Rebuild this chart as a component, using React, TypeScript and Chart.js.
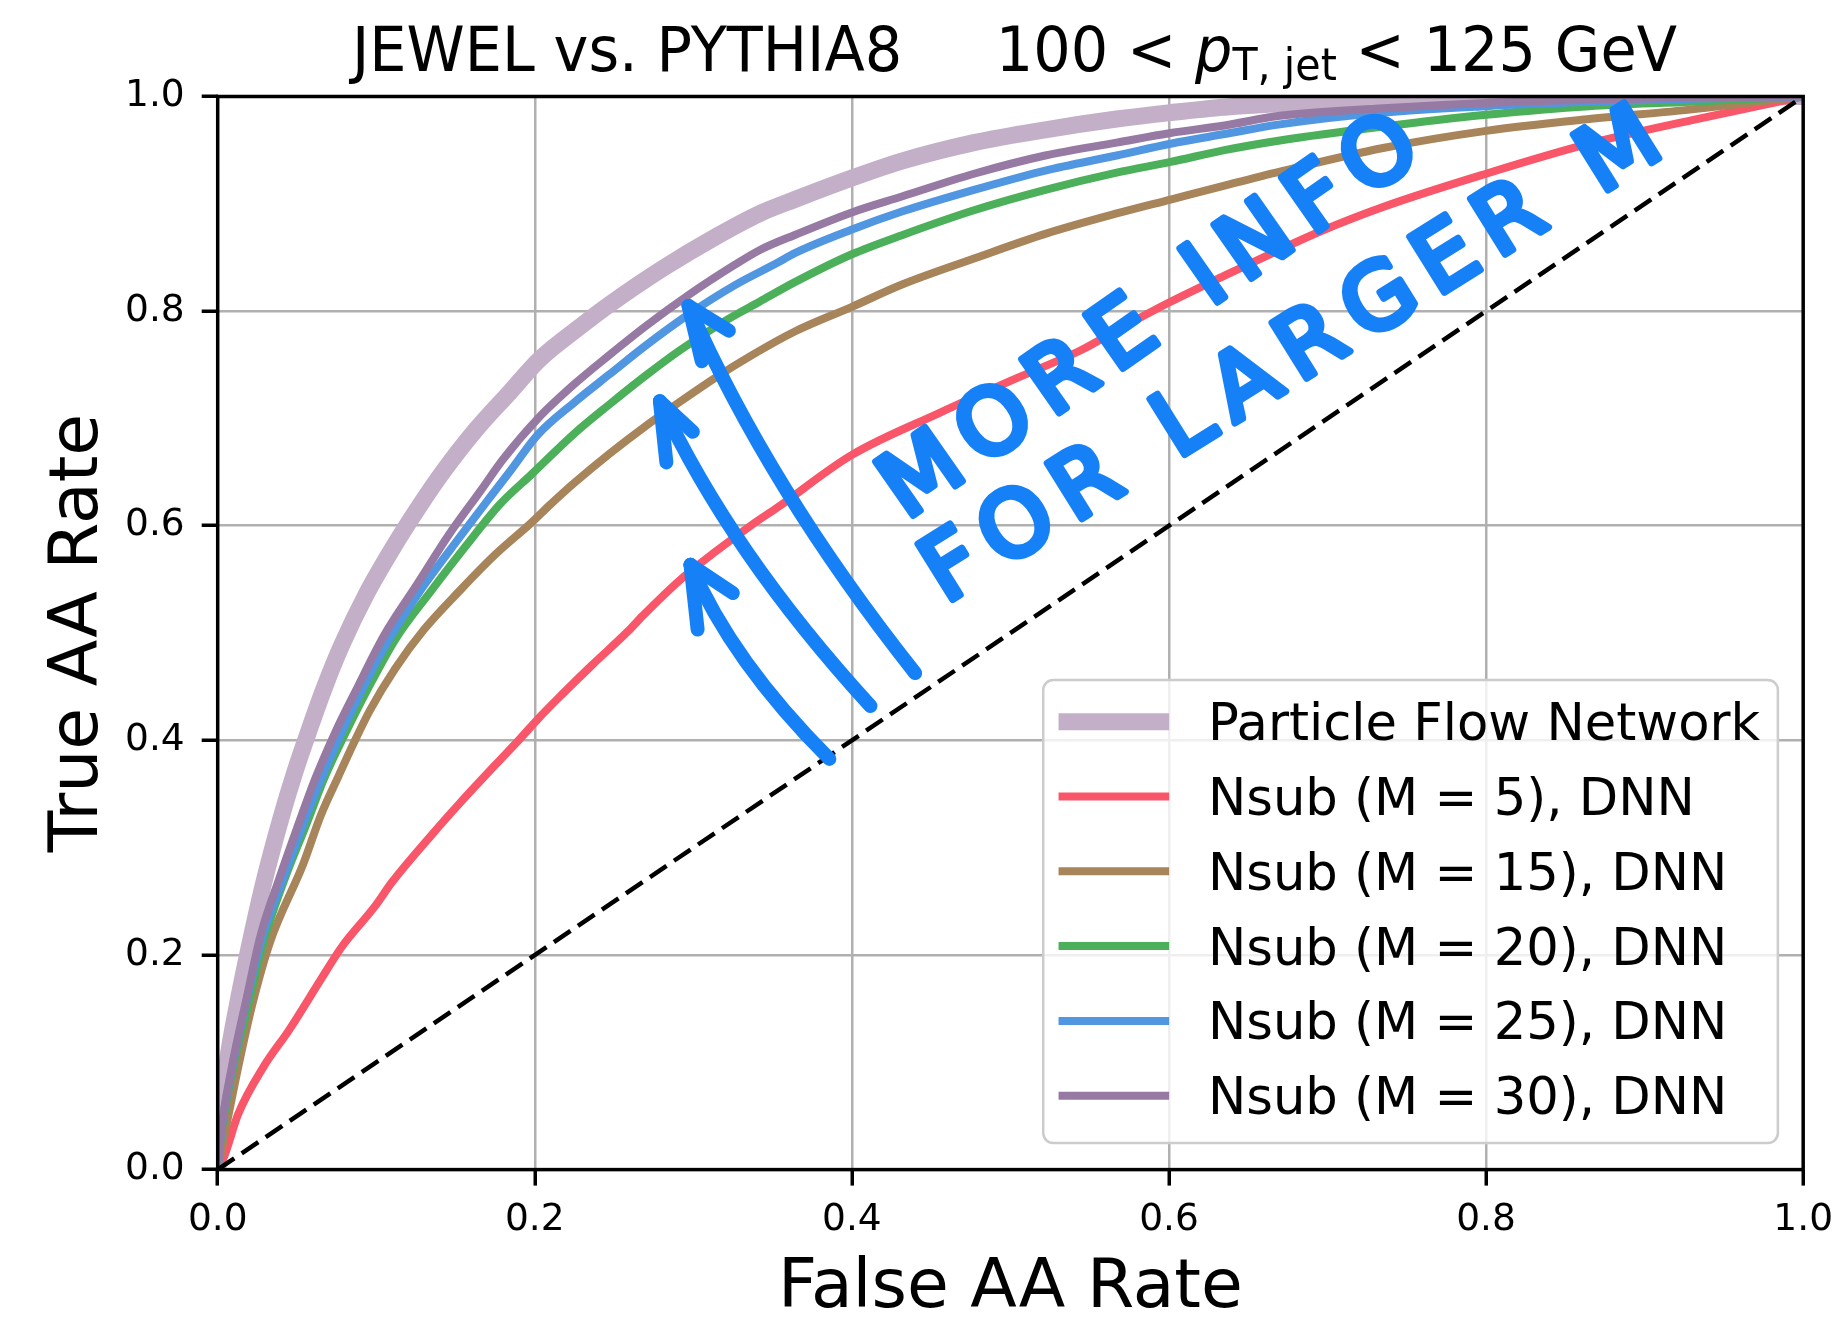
import React, { useEffect, useRef } from "react";
import { Chart, registerables } from "chart.js";

Chart.register(...registerables);

const FONT = '"DejaVu Sans", "Liberation Sans", sans-serif';

// ROC curves: false AA rate (x) against true AA rate (y)
const pfnFpr = [0, 0.002, 0.006, 0.013, 0.021, 0.029, 0.040, 0.049, 0.058, 0.067, 0.078, 0.094, 0.112, 0.128, 0.142, 0.162, 0.184, 0.203, 0.229, 0.247, 0.281, 0.315, 0.342, 0.364, 0.400, 0.432, 0.477, 0.522, 0.567, 0.601, 0.635, 0.695, 0.735, 0.800, 0.865, 0.930, 1];
const pfnTpr = [0, 0.050, 0.100, 0.158, 0.215, 0.267, 0.328, 0.372, 0.411, 0.448, 0.488, 0.537, 0.583, 0.620, 0.650, 0.688, 0.724, 0.755, 0.786, 0.806, 0.840, 0.870, 0.891, 0.904, 0.924, 0.940, 0.957, 0.969, 0.979, 0.985, 0.990, 0.995, 0.997, 0.998, 0.999, 1.0, 1];

const m5Fpr = [0, 0.004, 0.013, 0.029, 0.045, 0.065, 0.078, 0.099, 0.110, 0.135, 0.153, 0.175, 0.191, 0.202, 0.218, 0.236, 0.259, 0.268, 0.292, 0.315, 0.337, 0.353, 0.400, 0.455, 0.500, 0.545, 0.567, 0.600, 0.635, 0.668, 0.695, 0.735, 0.800, 0.865, 0.930, 1];
const m5Tpr = [0, 0.012, 0.052, 0.096, 0.130, 0.177, 0.207, 0.245, 0.268, 0.312, 0.342, 0.377, 0.402, 0.420, 0.444, 0.470, 0.502, 0.516, 0.550, 0.577, 0.601, 0.617, 0.666, 0.705, 0.735, 0.764, 0.782, 0.808, 0.833, 0.856, 0.874, 0.897, 0.928, 0.956, 0.978, 1];

const m15Fpr = [0, 0.004, 0.013, 0.022, 0.033, 0.054, 0.065, 0.076, 0.085, 0.096, 0.112, 0.130, 0.153, 0.175, 0.198, 0.210, 0.225, 0.247, 0.270, 0.292, 0.315, 0.337, 0.364, 0.400, 0.432, 0.477, 0.522, 0.567, 0.601, 0.635, 0.670, 0.735, 0.800, 0.865, 0.930, 1];
const m15Tpr = [0, 0.030, 0.096, 0.155, 0.212, 0.285, 0.330, 0.366, 0.395, 0.428, 0.467, 0.503, 0.540, 0.573, 0.603, 0.620, 0.640, 0.667, 0.693, 0.716, 0.739, 0.759, 0.781, 0.804, 0.825, 0.849, 0.872, 0.891, 0.904, 0.917, 0.930, 0.952, 0.968, 0.979, 0.988, 1];

const m20Fpr = [0, 0.002, 0.009, 0.019, 0.029, 0.042, 0.056, 0.067, 0.081, 0.094, 0.112, 0.135, 0.157, 0.178, 0.198, 0.225, 0.247, 0.270, 0.292, 0.319, 0.342, 0.364, 0.400, 0.432, 0.477, 0.522, 0.567, 0.601, 0.635, 0.670, 0.735, 0.800, 0.865, 0.930, 1];
const m20Tpr = [0, 0.030, 0.090, 0.152, 0.213, 0.270, 0.322, 0.364, 0.408, 0.446, 0.494, 0.540, 0.582, 0.620, 0.648, 0.686, 0.713, 0.740, 0.764, 0.790, 0.809, 0.827, 0.853, 0.871, 0.894, 0.913, 0.929, 0.939, 0.950, 0.959, 0.972, 0.983, 0.991, 0.995, 1];

const m25Fpr = [0, 0.002, 0.009, 0.018, 0.028, 0.041, 0.053, 0.065, 0.078, 0.092, 0.108, 0.128, 0.153, 0.172, 0.185, 0.202, 0.225, 0.247, 0.270, 0.297, 0.326, 0.353, 0.364, 0.400, 0.432, 0.477, 0.522, 0.567, 0.601, 0.635, 0.670, 0.735, 0.800, 0.865, 0.930, 1];
const m25Tpr = [0, 0.033, 0.094, 0.156, 0.216, 0.270, 0.318, 0.363, 0.407, 0.450, 0.494, 0.540, 0.590, 0.627, 0.652, 0.685, 0.715, 0.741, 0.768, 0.797, 0.824, 0.845, 0.854, 0.876, 0.893, 0.913, 0.931, 0.945, 0.956, 0.965, 0.974, 0.985, 0.991, 0.995, 0.998, 1];

const m30Fpr = [0, 0.002, 0.009, 0.018, 0.027, 0.039, 0.050, 0.062, 0.074, 0.087, 0.105, 0.126, 0.146, 0.166, 0.180, 0.202, 0.225, 0.247, 0.270, 0.297, 0.326, 0.342, 0.364, 0.400, 0.432, 0.477, 0.522, 0.567, 0.601, 0.635, 0.670, 0.735, 0.800, 0.865, 0.930, 1];
const m30Tpr = [0, 0.034, 0.096, 0.158, 0.218, 0.272, 0.318, 0.366, 0.407, 0.446, 0.498, 0.546, 0.592, 0.633, 0.662, 0.700, 0.732, 0.759, 0.786, 0.815, 0.843, 0.857, 0.871, 0.892, 0.907, 0.928, 0.945, 0.957, 0.966, 0.973, 0.982, 0.989, 0.994, 0.997, 0.999, 1];

// random-guess reference diagonal
const chanceFpr = [0, 1];
const chanceTpr = [0, 1];

const seriesLabels = [
  "Particle Flow Network",
  "Nsub (M = 5), DNN",
  "Nsub (M = 15), DNN",
  "Nsub (M = 20), DNN",
  "Nsub (M = 25), DNN",
  "Nsub (M = 30), DNN",
];

const axisTicks = [0, 0.2, 0.4, 0.6, 0.8, 1.0];
const tickLabels = ["0.0", "0.2", "0.4", "0.6", "0.8", "1.0"];

const xTitle = "False AA Rate";
const yTitle = "True AA Rate";

// title pieces: plain text, italic p, subscript "T, jet", then the upper bound
const titleRuns = [
  { text: "JEWEL vs. PYTHIA8     100 < ", italic: false, scale: 1, drop: 0 },
  { text: "p", italic: true, scale: 1, drop: 0 },
  { text: "T, jet", italic: false, scale: 0.7, drop: 9 },
  { text: " < 125 GeV", italic: false, scale: 1, drop: 0 },
];

// hand-written note and arrows, in data coordinates
const noteLines = ["MORE INFO", "FOR LARGER M"];
const noteAnchors = [
  { x: 0.593, y: 0.796, angle: -35 },
  { x: 0.6825, y: 0.759, angle: -32 },
];
const noteArrows = [
  { tail: [0.3858, 0.3827], ctrl: [0.3242, 0.4737], tip: [0.2982, 0.5636], arms: [[0.3027, 0.5033], [0.3249, 0.5373]] },
  { tail: [0.4117, 0.432], ctrl: [0.3235, 0.5746], tip: [0.2789, 0.716], arms: [[0.283, 0.659], [0.2997, 0.6875]] },
  { tail: [0.4399, 0.4627], ctrl: [0.3481, 0.6338], tip: [0.297, 0.8048], arms: [[0.3053, 0.7533], [0.3224, 0.7818]] },
];

const NOTE_COLOR = "#1681f7";

const toPoints = (xs: number[], ys: number[]) => xs.map((x, i) => ({ x, y: ys[i] }));

const decorPlugin = {
  id: "decor",
  beforeDraw(chart: any) {
    const { ctx, width, height } = chart;
    ctx.save();
    ctx.fillStyle = "#ffffff";
    ctx.fillRect(0, 0, width, height);
    ctx.restore();
  },
  afterDatasetsDraw(chart: any) {
    const { ctx, chartArea: a } = chart;
    ctx.save();
    ctx.strokeStyle = "#000000";
    ctx.lineWidth = 3.5;
    ctx.strokeRect(a.left, a.top, a.right - a.left, a.bottom - a.top);
    ctx.restore();
  },
  afterDraw(chart: any) {
    const { ctx, chartArea: a } = chart;
    const xs = chart.scales.x;
    const ys = chart.scales.y;
    const cx = (a.left + a.right) / 2;
    const cy = (a.top + a.bottom) / 2;

    ctx.save();
    ctx.fillStyle = "#000000";
    ctx.textBaseline = "alphabetic";

    // title, set in a slightly narrowed face
    const base = 63;
    const squeeze = 0.935;
    const fontFor = (r: any) => `${r.italic ? "italic " : ""}${base * r.scale}px ${FONT}`;
    let total = 0;
    const widths = titleRuns.map((r) => {
      ctx.font = fontFor(r);
      const w = ctx.measureText(r.text).width * squeeze;
      total += w;
      return w;
    });
    let tx = cx - total / 2 + 4;
    const ty = a.top - 26;
    ctx.textAlign = "left";
    titleRuns.forEach((r, i) => {
      ctx.font = fontFor(r);
      ctx.save();
      ctx.translate(tx, ty + r.drop);
      ctx.scale(squeeze, 1);
      ctx.fillText(r.text, 0, 0);
      ctx.restore();
      tx += widths[i];
    });

    // axis titles
    ctx.font = `68px ${FONT}`;
    ctx.textAlign = "center";
    ctx.fillText(xTitle, cx, a.bottom + 137);
    ctx.save();
    ctx.translate(a.left - 121, cy);
    ctx.rotate(-Math.PI / 2);
    ctx.fillText(yTitle, 0, 0);
    ctx.restore();

    // legend
    const fontPx = 51.2;
    ctx.font = `${fontPx}px ${FONT}`;
    const entries = chart.data.datasets.filter((d: any) => seriesLabels.includes(d.label));
    const textW = Math.max(...entries.map((d: any) => ctx.measureText(d.label).width));
    const padL = 15.3, handleLen = 110.6, gap = 38.8, padR = 17.7;
    const rowGap = 74.8, padTop = 41.7, padBot = 47.3;
    const w = padL + handleLen + gap + textW + padR;
    const h = padTop + rowGap * (entries.length - 1) + padBot;
    const x0 = a.right - 25.3 - w;
    const y0 = a.bottom - 26.6 - h;
    ctx.beginPath();
    ctx.roundRect(x0, y0, w, h, 10);
    ctx.fillStyle = "rgba(255,255,255,0.8)";
    ctx.fill();
    ctx.strokeStyle = "#cccccc";
    ctx.lineWidth = 2.5;
    ctx.stroke();
    entries.forEach((d: any, i: number) => {
      const ry = y0 + padTop + rowGap * i;
      ctx.beginPath();
      ctx.strokeStyle = d.borderColor;
      ctx.lineWidth = d.borderWidth;
      ctx.lineCap = "butt";
      ctx.moveTo(x0 + padL, ry);
      ctx.lineTo(x0 + padL + handleLen, ry);
      ctx.stroke();
      ctx.fillStyle = "#000000";
      ctx.textAlign = "left";
      ctx.fillText(d.label, x0 + padL + handleLen + gap, ry + 18.5);
    });

    // hand-written note
    const px = (p: number[]) => [xs.getPixelForValue(p[0]), ys.getPixelForValue(p[1])];
    ctx.strokeStyle = NOTE_COLOR;
    ctx.fillStyle = NOTE_COLOR;
    ctx.lineWidth = 14;
    ctx.lineCap = "round";
    ctx.lineJoin = "round";
    noteArrows.forEach((arr) => {
      const [tx0, ty0] = px(arr.tail);
      const [qx, qy] = px(arr.ctrl);
      const [hx, hy] = px(arr.tip);
      ctx.beginPath();
      ctx.moveTo(tx0, ty0);
      ctx.quadraticCurveTo(qx, qy, hx, hy);
      ctx.stroke();
      arr.arms.forEach((arm) => {
        const [ax, ay] = px(arm);
        ctx.beginPath();
        ctx.moveTo(hx, hy);
        ctx.lineTo(ax, ay);
        ctx.stroke();
      });
    });
    ctx.font = `90px ${FONT}`;
    (ctx as any).letterSpacing = "15px";
    ctx.textAlign = "center";
    ctx.textBaseline = "middle";
    ctx.lineWidth = 7;
    noteLines.forEach((line, i) => {
      const an = noteAnchors[i];
      const [nx, ny] = px([an.x, an.y]);
      ctx.save();
      ctx.translate(nx, ny);
      ctx.rotate((an.angle * Math.PI) / 180);
      ctx.fillText(line, 0, 0);
      ctx.strokeText(line, 0, 0);
      ctx.restore();
    });
    (ctx as any).letterSpacing = "0px";

    ctx.restore();
  },
};

export default function App() {
  const canvasRef = useRef<HTMLCanvasElement | null>(null);

  useEffect(() => {
    const canvas = canvasRef.current;
    if (!canvas) return;

    const line = (label: string, xsv: number[], ysv: number[], color: string, width: number, order: number) => ({
      label,
      data: toPoints(xsv, ysv),
      borderColor: color,
      backgroundColor: color,
      borderWidth: width,
      pointRadius: 0,
      fill: false,
      cubicInterpolationMode: "monotone" as const,
      order,
      clip: 0,
      borderJoinStyle: "round" as const,
    });

    const tickFont = { family: FONT, size: 37.5 };
    const tickLabel = (v: any) => {
      const idx = axisTicks.findIndex((t) => Math.abs(t - Number(v)) < 1e-6);
      return idx >= 0 ? tickLabels[idx] : "";
    };

    const chart = new Chart(canvas, {
      type: "line",
      data: {
        datasets: [
          line(seriesLabels[0], pfnFpr, pfnTpr, "#c4afc8", 17, 10),
          line(seriesLabels[1], m5Fpr, m5Tpr, "#f9566a", 8, 9),
          line(seriesLabels[2], m15Fpr, m15Tpr, "#a8845a", 8, 8),
          line(seriesLabels[3], m20Fpr, m20Tpr, "#4cb05a", 8, 7),
          line(seriesLabels[4], m25Fpr, m25Tpr, "#5196e0", 8, 6),
          line(seriesLabels[5], m30Fpr, m30Tpr, "#977aa3", 8, 5),
          {
            label: "chance",
            data: toPoints(chanceFpr, chanceTpr),
            borderColor: "#000000",
            borderWidth: 4.5,
            borderDash: [20, 9],
            pointRadius: 0,
            fill: false,
            order: 0,
            clip: 0,
          },
        ],
      },
      options: {
        responsive: false,
        animation: false,
        devicePixelRatio: 1,
        layout: { padding: { top: 96.5, right: 41.2, left: 0, bottom: 0 } },
        plugins: {
          legend: { display: false },
          title: { display: false },
          tooltip: { enabled: false },
        },
        scales: {
          x: {
            type: "linear",
            min: 0,
            max: 1,
            afterFit: (s: any) => {
              s.height = 148.4;
            },
            ticks: {
              stepSize: 0.2,
              autoSkip: false,
              maxRotation: 0,
              color: "#000000",
              font: tickFont,
              padding: 12,
              callback: tickLabel,
            },
            grid: {
              color: "#b0b0b0",
              lineWidth: 2.5,
              drawTicks: true,
              tickLength: 16,
              tickColor: "#000000",
              tickWidth: 3.5,
            },
            border: { display: false },
          },
          y: {
            type: "linear",
            min: 0,
            max: 1,
            afterFit: (s: any) => {
              s.width = 217.7;
            },
            ticks: {
              stepSize: 0.2,
              autoSkip: false,
              color: "#000000",
              font: tickFont,
              padding: 17,
              callback: tickLabel,
            },
            grid: {
              color: "#b0b0b0",
              lineWidth: 2.5,
              drawTicks: true,
              tickLength: 16,
              tickColor: "#000000",
              tickWidth: 3.5,
            },
            border: { display: false },
          },
        },
      } as any,
      plugins: [decorPlugin],
    });

    return () => chart.destroy();
  }, []);

  return (
    <div style={{ position: "absolute", left: 0, top: 0, width: 1845, height: 1318, background: "#ffffff" }}>
      <canvas ref={canvasRef} width={1845} height={1318} style={{ display: "block", width: 1845, height: 1318 }} />
    </div>
  );
}
